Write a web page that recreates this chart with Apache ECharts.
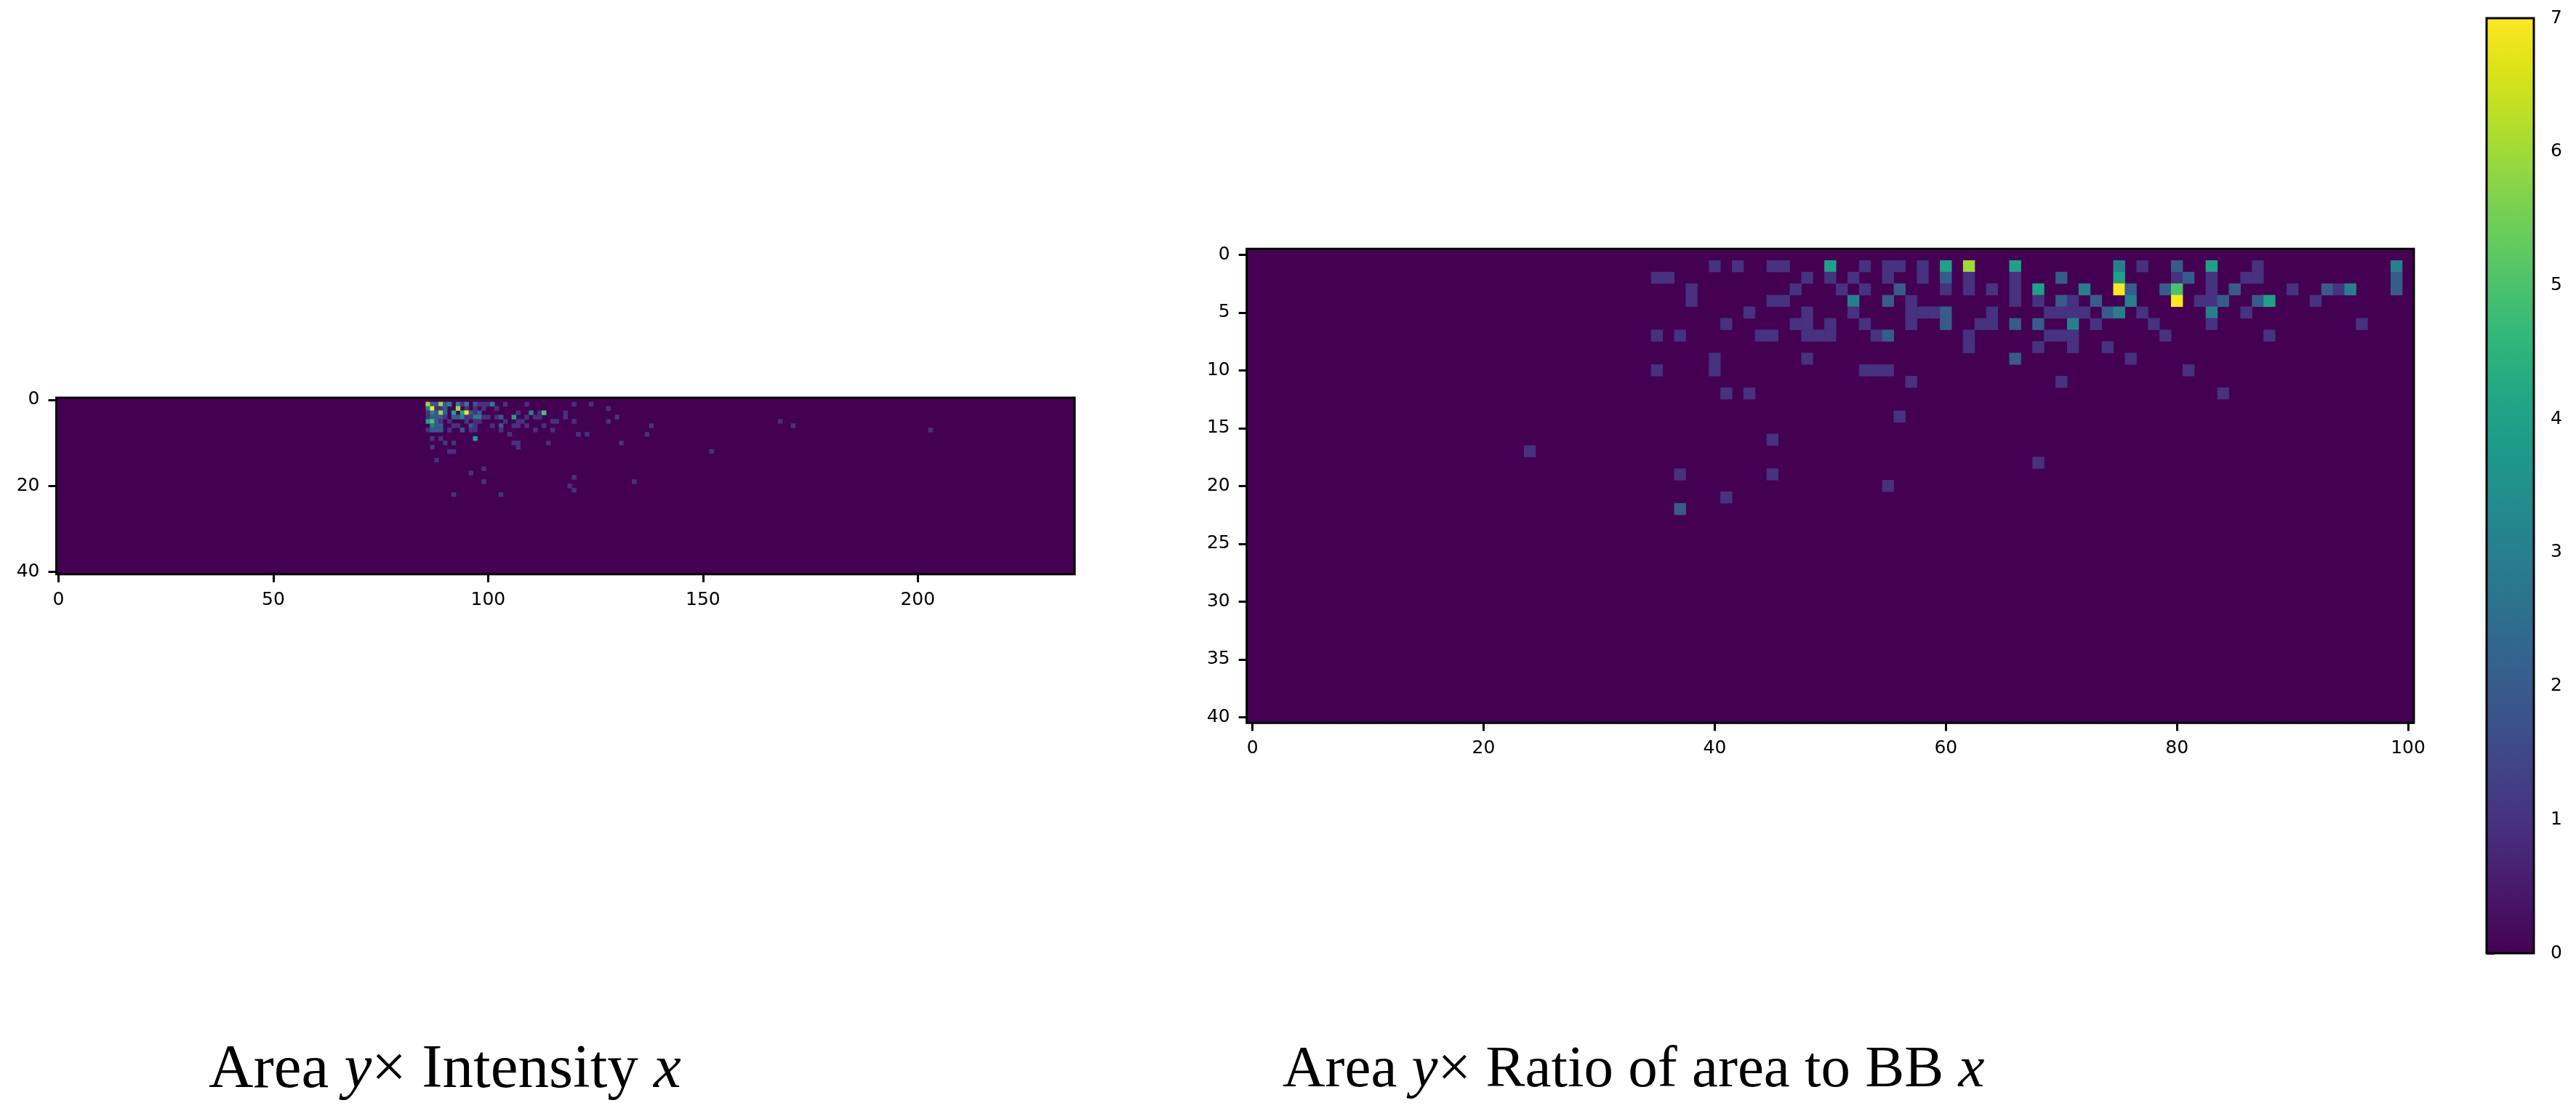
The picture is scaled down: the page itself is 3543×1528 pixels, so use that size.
<!DOCTYPE html>
<html>
<head>
<meta charset="utf-8">
<style>
  html, body { margin: 0; padding: 0; background: #fff; }
  #chart { width: 3543px; height: 1528px; }
</style>
<script src="https://cdn.jsdelivr.net/npm/echarts@6/dist/echarts.min.js"></script>
</head>
<body>
<div id="chart"></div>
<script>
// [x bin, y bin, count], only the non empty cells, grouped by area row
var intensityCells = [
  [86,1,6],[87,1,2],[88,1,2],[89,1,6],[90,1,2],[91,1,3],[93,1,3],[94,1,1],[95,1,3],[97,1,2],[98,1,1],[99,1,1],[100,1,1],[101,1,3],[104,1,1],[109,1,1],[120,1,1],[124,1,1],
  [86,2,3],[87,2,7],[88,2,1],[89,2,1],[90,2,2],[93,2,6],[95,2,1],[97,2,1],[99,2,1],[102,2,1],[128,2,1],
  [86,3,1],[87,3,3],[88,3,2],[89,3,6],[90,3,2],[92,3,4],[94,3,4],[95,3,7],[96,3,2],[97,3,1],[98,3,2],[107,3,1],[110,3,3],[112,3,1],[113,3,5],[118,3,1],
  [86,4,1],[87,4,2],[88,4,2],[89,4,2],[90,4,1],[92,4,2],[93,4,2],[94,4,3],[95,4,1],[96,4,1],[97,4,3],[98,4,3],[99,4,1],[100,4,1],[102,4,1],[103,4,2],[106,4,4],[109,4,1],[111,4,1],[112,4,1],[118,4,1],[130,4,1],
  [86,5,4],[87,5,5],[88,5,2],[89,5,1],[91,5,1],[95,5,1],[97,5,1],[98,5,1],[104,5,1],[107,5,1],[108,5,1],[115,5,1],[116,5,1],[120,5,1],[128,5,1],[168,5,1],
  [87,6,3],[88,6,2],[89,6,2],[92,6,1],[93,6,1],[96,6,2],[97,6,1],[101,6,1],[103,6,2],[106,6,1],[107,6,1],[109,6,1],[113,6,1],[138,6,1],[171,6,1],
  [86,7,1],[87,7,2],[88,7,2],[89,7,2],[91,7,1],[94,7,2],[96,7,1],[97,7,1],[103,7,1],[111,7,1],[115,7,1],[203,7,1],
  [105,8,1],[121,8,1],[123,8,1],[137,8,1],
  [87,9,1],[89,9,1],[97,9,4],
  [90,10,1],[92,10,1],[106,10,1],[107,10,1],[114,10,1],[131,10,1],
  [87,11,1],[107,11,1],
  [91,12,1],[92,12,1],[152,12,1],
  [88,14,1],
  [99,16,1],
  [96,17,1],
  [120,18,1],
  [99,19,1],[134,19,1],
  [119,20,1],
  [120,21,1],
  [92,22,1],[103,22,1]
];

var ratioCells = [
  [40,1,1],[42,1,1],[45,1,1],[46,1,1],[50,1,4],[53,1,1],[55,1,1],[56,1,1],[58,1,1],[60,1,4],[62,1,6],[66,1,4],[75,1,3],[77,1,1],[80,1,2],[83,1,4],[87,1,1],[99,1,3],
  [35,2,1],[36,2,1],[48,2,1],[50,2,1],[52,2,1],[55,2,1],[58,2,1],[60,2,2],[62,2,1],[66,2,1],[70,2,2],[75,2,4],[80,2,1],[81,2,2],[83,2,1],[86,2,1],[87,2,1],[99,2,2],
  [38,3,1],[47,3,1],[51,3,1],[53,3,1],[56,3,2],[60,3,1],[62,3,1],[64,3,1],[66,3,1],[68,3,4],[72,3,3],[75,3,7],[76,3,2],[79,3,2],[80,3,5],[83,3,1],[85,3,2],[90,3,1],[93,3,2],[94,3,1],[95,3,3],[99,3,2],
  [38,4,1],[45,4,1],[46,4,1],[52,4,3],[55,4,2],[57,4,1],[66,4,1],[68,4,1],[70,4,2],[71,4,1],[73,4,2],[76,4,3],[80,4,7],[82,4,1],[83,4,1],[84,4,2],[87,4,2],[88,4,4],[92,4,1],
  [43,5,1],[48,5,1],[52,5,1],[57,5,1],[58,5,1],[59,5,1],[60,5,2],[64,5,1],[69,5,1],[70,5,1],[71,5,1],[72,5,1],[74,5,2],[75,5,3],[77,5,1],[83,5,3],[86,5,1],
  [41,6,1],[47,6,1],[48,6,1],[50,6,1],[53,6,1],[57,6,1],[60,6,2],[63,6,1],[64,6,1],[66,6,2],[68,6,2],[71,6,3],[73,6,1],[78,6,1],[83,6,1],[96,6,1],
  [35,7,1],[37,7,1],[44,7,1],[45,7,1],[48,7,1],[49,7,1],[50,7,1],[54,7,1],[55,7,2],[62,7,1],[69,7,1],[70,7,1],[71,7,1],[79,7,1],[88,7,1],
  [62,8,1],[68,8,1],[71,8,1],[74,8,1],
  [40,9,1],[48,9,1],[66,9,2],[76,9,1],
  [35,10,1],[40,10,1],[53,10,1],[54,10,1],[55,10,1],[81,10,1],
  [57,11,1],[70,11,1],
  [41,12,1],[43,12,1],[84,12,1],
  [56,14,1],
  [45,16,1],
  [24,17,1],
  [68,18,1],
  [37,19,1],[45,19,1],
  [55,20,1],
  [41,21,1],
  [37,22,2]
];

var intensityBinCount = 237;
var ratioBinCount = 101;
var areaBinCount = 41;

var intensityTicks = [0, 50, 100, 150, 200];
var ratioTicks = [0, 20, 40, 60, 80, 100];
var areaTicksLeft = [0, 20, 40];
var areaTicksRight = [0, 5, 10, 15, 20, 25, 30, 35, 40];

var countMin = 0;
var countMax = 7;

var viridis = ['#440154','#471365','#482475','#463480','#414487','#3b528b','#355f8d','#2f6c8e','#2a788e','#25848e',
  '#21918c','#1e9c89','#22a884','#2fb47c','#44bf70','#5ec962','#7ad151','#9bd93c','#bddf26','#dfe318','#fde725'];

var LABEL_FONT = 'DejaVu Sans';
var TITLE_FONT = 'Liberation Serif';

function binLabels(n) {
  var out = [];
  for (var i = 0; i < n; i++) out.push(String(i));
  return out;
}

// every bin of the image, empty ones are count 0 and go first so they do not
// paint over the edge of a filled neighbour
function fullGrid(nx, ny, cells) {
  var lookup = {};
  cells.forEach(function (c) { lookup[c[0] + '_' + c[1]] = c[2]; });
  var out = [];
  for (var x = 0; x < nx; x++) {
    for (var y = 0; y < ny; y++) {
      if (!lookup[x + '_' + y]) out.push([x, y, 0]);
    }
  }
  return out.concat(cells);
}

function tickFilter(ticks) {
  return function (index) { return ticks.indexOf(index) >= 0; };
}

function catAxis(n, ticks, gridIndex, inverse) {
  return {
    type: 'category',
    gridIndex: gridIndex,
    data: binLabels(n),
    inverse: !!inverse,
    axisLine: { show: false },
    splitLine: { show: false },
    axisTick: {
      show: true,
      alignWithLabel: true,
      interval: tickFilter(ticks),
      length: 11,
      lineStyle: { color: '#000', width: 3 }
    },
    axisLabel: {
      interval: tickFilter(ticks),
      margin: 23,
      fontFamily: LABEL_FONT,
      fontSize: 25,
      color: '#000'
    }
  };
}

function rect(left, top, width, height, extra) {
  var g = { left: left, top: top, width: width, height: height, containLabel: false };
  for (var k in extra) g[k] = extra[k];
  return g;
}

var leftRect = [77.5, 547, 1400.5, 242.7];
var rightRect = [1714.7, 342.3, 1605.3, 652];
var barRect = [3420, 25, 65, 1286];

function frame(r) {
  return rect(r[0], r[1], r[2], r[3], { show: true, z: 10, backgroundColor: 'transparent', borderColor: '#000', borderWidth: 3 });
}

function titleText(left, middle, size) {
  return {
    left: left,
    top: 1423,
    padding: 0,
    text: '{n|Area }{i|y}{n|\u00d7 ' + middle + ' }{i|x}',
    textStyle: {
      fontWeight: 'normal',
      rich: {
        n: { fontFamily: TITLE_FONT, fontSize: size, fontWeight: 'normal', color: '#000', lineHeight: 100 },
        i: { fontFamily: TITLE_FONT, fontSize: size, fontWeight: 'normal', fontStyle: 'italic', color: '#000', lineHeight: 100 }
      }
    }
  };
}

var chart = echarts.init(document.getElementById('chart'), null, { renderer: 'canvas' });

var option = {
  animation: false,
  backgroundColor: '#fff',
  title: [
    titleText(287, 'Intensity', 85),
    titleText(1764, 'Ratio of area to BB', 81)
  ],
  grid: [
    rect(leftRect[0], leftRect[1], leftRect[2], leftRect[3], { show: true, backgroundColor: viridis[0], borderWidth: 0 }),
    rect(rightRect[0], rightRect[1], rightRect[2], rightRect[3], { show: true, backgroundColor: viridis[0], borderWidth: 0 }),
    rect(barRect[0], barRect[1], barRect[2], barRect[3], { show: false }),
    frame(leftRect),
    frame(rightRect),
    frame(barRect)
  ],
  xAxis: [
    catAxis(intensityBinCount, intensityTicks, 0),
    catAxis(ratioBinCount, ratioTicks, 1),
    { type: 'value', gridIndex: 2, min: 0, max: 1, show: false }
  ],
  yAxis: [
    catAxis(areaBinCount, areaTicksLeft, 0, true),
    catAxis(areaBinCount, areaTicksRight, 1, true),
    {
      type: 'value',
      gridIndex: 2,
      position: 'right',
      min: countMin,
      max: countMax,
      interval: 1,
      axisLine: { show: false },
      splitLine: { show: false },
      axisTick: { show: true, length: 11, lineStyle: { color: '#000', width: 3 } },
      axisLabel: { margin: 23, fontFamily: LABEL_FONT, fontSize: 25, color: '#000' }
    }
  ],
  visualMap: {
    show: false,
    type: 'continuous',
    seriesIndex: [0, 1],
    dimension: 2,
    min: countMin,
    max: countMax,
    inRange: { color: viridis }
  },
  series: [
    {
      type: 'heatmap',
      xAxisIndex: 0,
      yAxisIndex: 0,
      progressive: 0,
      data: fullGrid(intensityBinCount, areaBinCount, intensityCells)
    },
    {
      type: 'heatmap',
      xAxisIndex: 1,
      yAxisIndex: 1,
      progressive: 0,
      data: fullGrid(ratioBinCount, areaBinCount, ratioCells)
    },
    {
      // colour bar, one rectangle over the whole count range
      type: 'custom',
      xAxisIndex: 2,
      yAxisIndex: 2,
      silent: true,
      data: [[0, countMin, 1, countMax]],
      renderItem: function (params, api) {
        var a = api.coord([api.value(0), api.value(1)]);
        var b = api.coord([api.value(2), api.value(3)]);
        var stops = viridis.map(function (c, i) {
          return { offset: i / (viridis.length - 1), color: c };
        });
        return {
          type: 'rect',
          shape: { x: a[0], y: b[1], width: b[0] - a[0], height: a[1] - b[1] },
          style: { fill: new echarts.graphic.LinearGradient(0, 1, 0, 0, stops) }
        };
      }
    }
  ]
};

chart.setOption(option);
</script>
</body>
</html>
